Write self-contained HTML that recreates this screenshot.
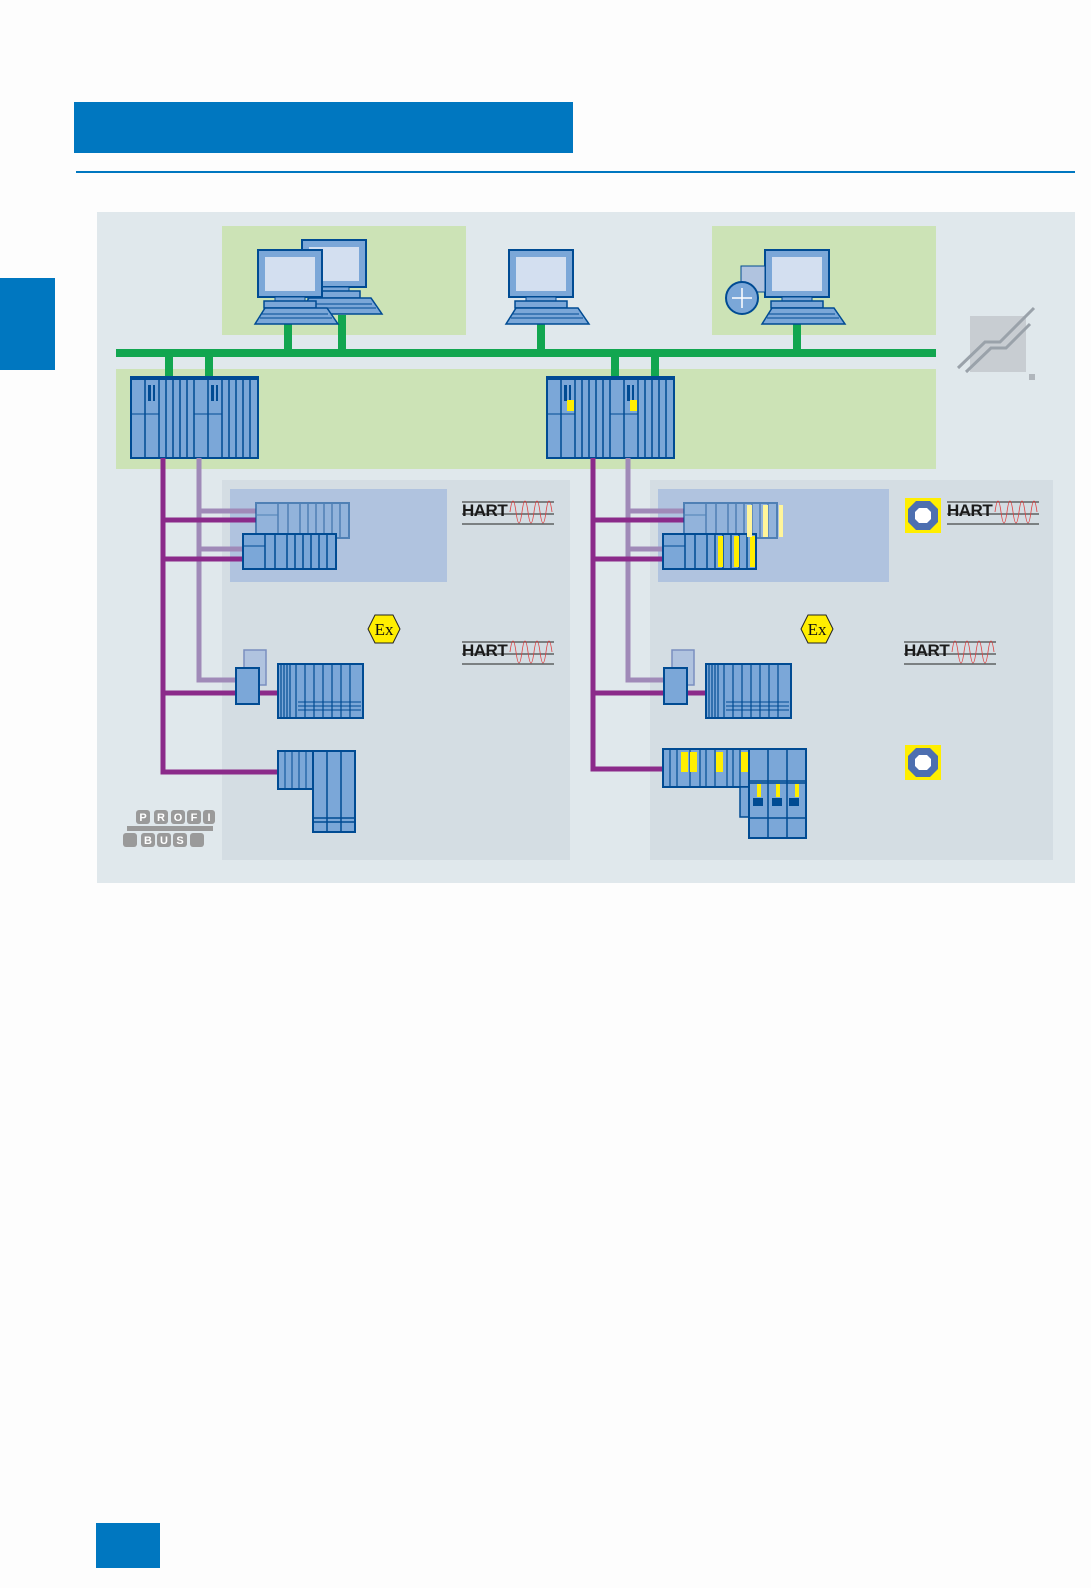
<!DOCTYPE html>
<html><head><meta charset="utf-8"><style>
html,body{margin:0;padding:0;background:#fdfdfd;}
svg{display:block;}
</style></head><body>
<svg width="1091" height="1588" viewBox="0 0 1091 1588" xmlns="http://www.w3.org/2000/svg" font-family="Liberation Sans, sans-serif">
<rect width="1091" height="1588" fill="#fdfdfd"/>
<rect x="74" y="102" width="499" height="51" fill="#0077c0"/>
<rect x="76" y="171" width="999" height="2" fill="#0077c0"/>
<rect x="0" y="278" width="55" height="92" fill="#0077c0"/>
<rect x="96" y="1523" width="64" height="45" fill="#0077c0"/>

<rect x="97" y="212" width="978" height="671" fill="#e0e8ec"/>
<rect x="222" y="226" width="244" height="109" fill="#cce3b6"/>
<rect x="712" y="226" width="224" height="109" fill="#cce3b6"/>
<rect x="116" y="369" width="820" height="100" fill="#cce3b6"/>
<rect x="222" y="480" width="348" height="380" fill="#d4dde3"/>
<rect x="650" y="480" width="403" height="380" fill="#d4dde3"/>
<rect x="230" y="489" width="217" height="93" fill="#b0c3df"/>
<rect x="658" y="489" width="231" height="93" fill="#b0c3df"/>

<!-- green bus -->
<g fill="#12a650">
<rect x="116" y="349" width="820" height="8"/>
<rect x="284" y="320" width="8" height="30"/>
<rect x="338" y="315" width="8" height="35"/>
<rect x="537" y="320" width="8" height="30"/>
<rect x="793" y="320" width="8" height="30"/>
<rect x="165" y="356" width="8" height="22"/>
<rect x="205" y="356" width="8" height="22"/>
<rect x="611" y="356" width="8" height="22"/>
<rect x="651" y="356" width="8" height="22"/>
</g>

<!-- PCs -->
<defs>
<g id="pc">
<rect x="0" y="0" width="64" height="47" fill="#7ba7d8" stroke="#004b93" stroke-width="2"/>
<rect x="7" y="7" width="50" height="34" fill="#d3dff0"/>
<rect x="17" y="47" width="30" height="4" fill="#7ba7d8" stroke="#004b93"/>
<rect x="6" y="51" width="52" height="7" fill="#7ba7d8" stroke="#004b93" stroke-width="1.5"/>
<path d="M-3 74 L7 58 L69 58 L80 74 Z" fill="#7ba7d8" stroke="#004b93" stroke-width="1.5"/>
<path d="M4 64 H70 M2 68 H74" stroke="#004b93" stroke-width="1"/>
</g>
</defs>
<use href="#pc" x="302" y="240"/>
<use href="#pc" x="258" y="250"/>
<use href="#pc" x="509" y="250"/>
<use href="#pc" x="765" y="250"/>
<rect x="741" y="266" width="24" height="26" fill="#b0c3df" stroke="#004b93"/>
<circle cx="742" cy="298" r="16" fill="#7ba7d8" stroke="#004b93" stroke-width="2"/>
<path d="M732 298 H752 M742 288 V308" stroke="#fff" stroke-width="1.5"/>

<!-- controllers -->
<defs>
<g id="rack">
<rect x="0" y="0" width="127" height="81" fill="#7ba7d8" stroke="#004b93" stroke-width="2"/>
<path d="M14 0V81 M28 0V81 M35 0V81 M42 0V81 M49 0V81 M56 0V81 M63 0V81 M77 0V81 M91 0V81 M98 0V81 M105 0V81 M112 0V81 M119 0V81" stroke="#004b93" stroke-width="1.5"/>
<path d="M0 37 H28 M63 37 H91" stroke="#004b93"/>
<rect x="0" y="0" width="127" height="3" fill="#004b93"/>
<rect x="17" y="8" width="3" height="16" fill="#004b93"/>
<rect x="22" y="8" width="2" height="16" fill="#004b93"/>
<rect x="80" y="8" width="3" height="16" fill="#004b93"/>
<rect x="85" y="8" width="2" height="16" fill="#004b93"/>
</g>
</defs>
<use href="#rack" x="131" y="377"/>
<use href="#rack" x="547" y="377"/>
<rect x="567" y="400" width="7" height="11" fill="#ffee00"/>
<rect x="630" y="400" width="7" height="11" fill="#ffee00"/>

<!-- purple lines left -->
<g fill="none" stroke-width="5">
<path d="M199 458 V680 H240 M199 511 H256 M199 549 H243" stroke="#a08ab8"/>
<path d="M163 458 V772 H280 M163 520 H256 M163 559 H243 M163 693 H280" stroke="#8b2a8a"/>
<path d="M628 458 V680 H665 M628 511 H684 M628 549 H663" stroke="#a08ab8"/>
<path d="M593 458 V769 H665 M593 520 H684 M593 559 H663 M593 693 H706" stroke="#8b2a8a"/>
</g>

<!-- ET200 racks in blue panels -->
<defs>
<g id="et">
<rect x="0" y="0" width="93" height="35" fill="#7ba7d8" stroke="#004b93" stroke-width="2"/>
<path d="M22 0V35 M32 0V35 M44 0V35 M52 0V35 M60 0V35 M68 0V35 M76 0V35 M84 0V35" stroke="#004b93" stroke-width="1.5"/>
<path d="M0 12 H22" stroke="#004b93"/>
</g>
</defs>
<g opacity="0.55"><use href="#et" x="256" y="503"/></g>
<use href="#et" x="243" y="534"/>
<g opacity="0.55"><use href="#et" x="684" y="503"/></g>
<use href="#et" x="663" y="534"/>
<g fill="#ffee00"><rect x="718" y="536" width="5" height="31"/><rect x="734" y="536" width="5" height="31"/><rect x="750" y="536" width="5" height="31"/></g>
<g fill="#fff59a"><rect x="747" y="505" width="5" height="32"/><rect x="763" y="505" width="5" height="32"/><rect x="779" y="505" width="4" height="32"/></g>

<!-- Ex area devices -->
<defs>
<g id="exd">
<rect x="8" y="-18" width="22" height="35" fill="#b0c3df" stroke="#7a8fc0" stroke-width="1.5"/>
<rect x="0" y="0" width="23" height="36" fill="#7ba7d8" stroke="#004b93" stroke-width="2"/>
<rect x="42" y="-4" width="85" height="54" fill="#7ba7d8" stroke="#004b93" stroke-width="2"/>
<path d="M45 -4V50 M48 -4V50 M51 -4V50 M54 -4V50 M60 -4V50 M69 -4V50 M78 -4V50 M87 -4V50 M96 -4V50 M105 -4V50 M114 -4V50" stroke="#004b93" stroke-width="1.2"/>
<path d="M62 34H125 M62 38H125 M62 42H125" stroke="#004b93" stroke-width="1"/>
</g>
</defs>
<use href="#exd" x="236" y="668"/>
<use href="#exd" x="664" y="668"/>

<!-- bottom left remote IO -->
<rect x="278" y="751" width="35" height="38" fill="#7ba7d8" stroke="#004b93" stroke-width="2"/>
<path d="M285 751V789 M292 751V789 M299 751V789 M306 751V789" stroke="#004b93"/>
<rect x="313" y="751" width="42" height="81" fill="#7ba7d8" stroke="#004b93" stroke-width="2"/>
<path d="M327 751V832 M341 751V832 M313 818H355 M313 822H355" stroke="#004b93" stroke-width="1.5"/>
<!-- bottom right -->
<rect x="663" y="749" width="86" height="38" fill="#7ba7d8" stroke="#004b93" stroke-width="2"/>
<path d="M670 749V787 M677 749V787 M690 749V787 M700 749V787 M706 749V787 M715 749V787 M727 749V787 M733 749V787 M740 749V787" stroke="#004b93" stroke-width="1.2"/>
<g fill="#ffee00"><rect x="681" y="752" width="7" height="20"/><rect x="690" y="752" width="7" height="20"/><rect x="716" y="752" width="7" height="20"/><rect x="741" y="752" width="7" height="20"/></g>
<rect x="740" y="787" width="9" height="30" fill="#7ba7d8" stroke="#004b93" stroke-width="1.5"/>
<rect x="749" y="749" width="57" height="89" fill="#7ba7d8" stroke="#004b93" stroke-width="2"/>
<path d="M768 749V838 M787 749V838 M749 781H806 M749 783H806 M749 818H806" stroke="#004b93" stroke-width="1.5"/>
<g fill="#ffee00"><rect x="757" y="784" width="4" height="13"/><rect x="776" y="784" width="4" height="13"/><rect x="795" y="784" width="4" height="13"/></g>
<g fill="#004b93"><rect x="753" y="798" width="10" height="8"/><rect x="772" y="798" width="10" height="8"/><rect x="789" y="798" width="10" height="8"/></g>

<!-- Ex hexagons -->
<defs>
<g id="ex">
<path d="M-9 -14 H9 L16 0 L9 14 H-9 L-16 0 Z" fill="#ffee00" stroke="#222" stroke-width="1"/>
<text x="0" y="6" font-size="17" text-anchor="middle" fill="#111" font-family="Liberation Serif, serif">Ex</text>
</g>
<g id="oct">
<rect x="0" y="0" width="36" height="35" fill="#ffee00"/>
<path d="M11 3 H25 L33 11 V24 L25 32 H11 L3 24 V11 Z" fill="#4d6fb0"/>
<path d="M14 10 H22 L26 14 V21 L22 25 H14 L10 21 V14 Z" fill="#fff"/>
</g>
<g id="hart">
<path d="M0 2 H92 M0 14 H92 M0 24 H92" stroke="#222" stroke-width="1"/>
<text x="0" y="16" font-size="17" font-weight="bold" fill="#1a1a1a" letter-spacing="-0.5">HART</text>
<path d="M48 12 q3 -22 6 0 q3 22 6 0 q3 -22 6 0 q3 22 6 0 q3 -22 6 0 q3 22 6 0 q3 -22 6 0" fill="none" stroke="#e04040" stroke-width="0.8"/>
</g>
</defs>
<use href="#ex" x="384" y="629"/>
<use href="#ex" x="817" y="629"/>
<use href="#oct" x="905" y="498"/>
<use href="#oct" x="905" y="745"/>
<use href="#hart" x="462" y="500"/>
<use href="#hart" x="462" y="640"/>
<use href="#hart" x="947" y="500"/>
<use href="#hart" x="904" y="640"/>

<!-- trend icon -->
<path d="M970 316 H1026 V372 H970 Z" fill="#c8cdd2"/>
<path d="M958 368 L985 342 H1000 L1034 308 M966 372 L991 348 H1006 L1030 324" fill="none" stroke="#9aa2aa" stroke-width="3"/>
<rect x="1029" y="374" width="6" height="6" fill="#b0b6bc"/>

<!-- PROFIBUS logo -->
<g fill="#9a9a9a">
<rect x="136" y="810" width="14" height="14" rx="3"/><rect x="154" y="810" width="14" height="14" rx="3"/><rect x="171" y="810" width="14" height="14" rx="3"/><rect x="187" y="810" width="14" height="14" rx="3"/><rect x="203" y="810" width="12" height="14" rx="3"/>
<rect x="127" y="826" width="86" height="5"/>
<rect x="123" y="833" width="14" height="14" rx="3"/><rect x="141" y="833" width="14" height="14" rx="3"/><rect x="157" y="833" width="14" height="14" rx="3"/><rect x="173" y="833" width="14" height="14" rx="3"/><rect x="190" y="833" width="14" height="14" rx="3"/>
</g>
<g fill="#fff" font-size="11" font-weight="bold" text-anchor="middle">
<text x="143" y="821">P</text><text x="161" y="821">R</text><text x="178" y="821">O</text><text x="194" y="821">F</text><text x="209" y="821">I</text>
<text x="148" y="844">B</text><text x="164" y="844">U</text><text x="180" y="844">S</text>
</g>
</svg>
</body></html>
